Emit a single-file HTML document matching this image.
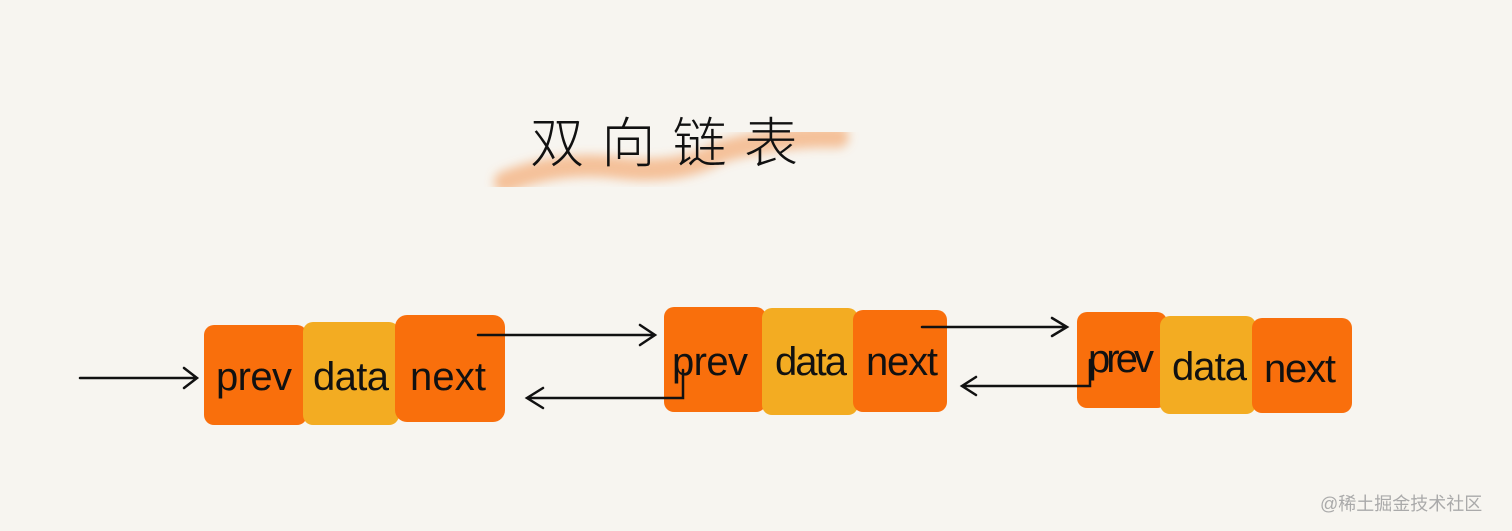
<!DOCTYPE html>
<html><head><meta charset="utf-8"><style>
html,body{margin:0;padding:0;background:#f7f5f0;}
svg{display:block}
</style></head><body>
<svg width="1512" height="531" viewBox="0 0 1512 531" xmlns="http://www.w3.org/2000/svg">
<rect width="1512" height="531" fill="#f7f5f0"/>
<defs><filter id="b"><feGaussianBlur stdDeviation="5"/></filter></defs>
<path d="M505 182 Q560 160 620 168 Q680 175 720 152 Q780 135 838 137" stroke="#f4b88a" stroke-width="22" fill="none" stroke-linecap="round" filter="url(#b)" opacity="0.85"/>
<text x="530" y="162" font-family="Liberation Sans, Noto Sans CJK SC, sans-serif" font-size="54" fill="#111" font-weight="300" textLength="268" lengthAdjust="spacing">双向链表</text>
<g>
<rect x="204" y="325" width="103" height="100" rx="10" fill="#f96f0c"/>
<rect x="303" y="322" width="96" height="103" rx="10" fill="#f3ac22"/>
<rect x="395" y="315" width="110" height="107" rx="12" fill="#f96f0c"/>
<rect x="664" y="307" width="102" height="105" rx="10" fill="#f96f0c"/>
<rect x="762" y="308" width="96" height="107" rx="10" fill="#f3ac22"/>
<rect x="853" y="310" width="94" height="102" rx="10" fill="#f96f0c"/>
<rect x="1077" y="312" width="90" height="96" rx="10" fill="#f96f0c"/>
<rect x="1160" y="316" width="96" height="98" rx="10" fill="#f3ac22"/>
<rect x="1252" y="318" width="100" height="95" rx="10" fill="#f96f0c"/>
</g>
<g font-family="Liberation Sans, sans-serif" font-size="40" fill="#111">
<text x="216" y="390" textLength="76">prev</text>
<text x="313" y="390" textLength="76">data</text>
<text x="410" y="390" textLength="76">next</text>
<text x="672" y="375" textLength="76">prev</text>
<text x="775" y="375" textLength="72">data</text>
<text x="866" y="375" textLength="72">next</text>
<text x="1088" y="372" textLength="66">prev</text>
<text x="1172" y="380" textLength="75">data</text>
<text x="1264" y="382" textLength="72">next</text>
</g>
<g stroke="#111" stroke-width="2.5" fill="none" stroke-linecap="round">
<path d="M80 378 H196 M184 368 L197 378 L184 388"/>
<path d="M478 335 H654 M640 325 L655 335 L640 345"/>
<path d="M683 370 V398 H528 M543 388 L527 398 L543 408"/>
<path d="M922 327 H1066 M1052 318 L1067 327 L1052 336"/>
<path d="M1090 360 V386 H962 M976 377 L962 386 L976 395"/>
</g>
<text x="1320" y="510" font-family="Liberation Sans, Noto Sans CJK SC, sans-serif" font-size="18" fill="#aaa">@稀土掘金技术社区</text>
</svg>
</body></html>
